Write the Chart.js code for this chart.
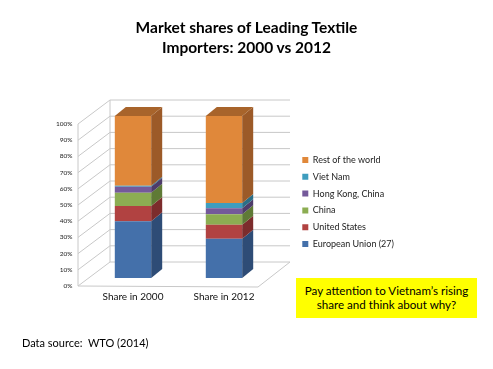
<!DOCTYPE html>
<html>
<head>
<meta charset="utf-8">
<script src="https://cdn.jsdelivr.net/npm/chart.js@4"></script>
<style>
  body { margin: 0; background: #fff; font-family: Lato, "Liberation Sans", sans-serif; }
  #wrap { position: relative; width: 493px; height: 369px; overflow: hidden; }
  #title { position: absolute; left: 0; top: 17px; width: 493px; text-align: center;
           font-weight: bold; font-size: 15.5px; line-height: 20px; color: #000; }
  #note { position: absolute; left: 296px; top: 278px; width: 181px; height: 40px;
          background: #ffff00; text-align: center; font-size: 11.6px; line-height: 14px;
          padding-top: 6px; box-sizing: border-box; color: #000; }
  #src { position: absolute; left: 22px; top: 336px; font-size: 11px; color: #000; }
  canvas { position: absolute; left: 0; top: 0; }
</style>
</head>
<body>
<div id="wrap">
  <canvas id="myChart" width="493" height="369"></canvas>
  <div id="title">Market shares of Leading Textile<br>Importers: 2000 vs 2012</div>
  <div id="note">Pay attention to Vietnam’s rising<br>share and think about why?</div>
  <div id="src">Data source:&nbsp; WTO (2014)</div>
</div>
<script>
// данные (проценты)
var years = ['Share in 2000', 'Share in 2012'];
var names = ['European Union (27)', 'United States', 'China', 'Hong Kong, China', 'Viet Nam', 'Rest of the world'];
var euVals = [35.0, 24.2];
var usVals = [9.5, 8.7];
var chinaVals = [8.1, 6.5];
var hkVals = [3.7, 3.7];
var vnVals = [0.6, 3.2];
var restVals = [43.1, 53.7];
var yTicks = [0, 10, 20, 30, 40, 50, 60, 70, 80, 90, 100];

var fronts = ['#4470aa', '#b14241', '#8cad52', '#74599a', '#3e9dbe', '#e0883a'];
var sides = ['#2e4c76', '#7c2c2c', '#5f7a36', '#4e3c6a', '#2b6e86', '#9c5a28'];
var topColor = '#a8642b';

var allVals = [euVals, usVals, chinaVals, hkVals, vnVals, restVals];
var datasets = [];
for (let i = 0; i < names.length; i++) {
    datasets.push({
        label: names[i],
        data: allVals[i],
        backgroundColor: fronts[i],
        borderWidth: 0,
        barPercentage: 0.4,
        categoryPercentage: 1
    });
}

// глубина 3D
var dx = 11, dy = 9;
var fontFam = 'Lato, "Liberation Sans", sans-serif';

var wallPlugin = {
    id: 'walls',
    afterLayout: function(chart) {
        // подвинуть область графика и легенду как на картинке
        var x = chart.scales.x;
        x.right = 269.5;
        x.width = x.right - x.left;
        x.configure();
        chart.chartArea.right = 269.5;
        chart.chartArea.width = 269.5 - chart.chartArea.left;
        var lg = chart.legend;
        var w = lg.width;
        lg.left = 294.5;
        lg.right = 294.5 + w;
        lg.top -= 10;
        lg.bottom -= 10;
    },
    beforeDatasetsDraw: function(chart) {
        var ctx = chart.ctx;
        var y = chart.scales.y;
        var fx = 78, bx = 110, bxr = 290;
        ctx.save();
        ctx.strokeStyle = '#c8c8c8';
        ctx.lineWidth = 1;
        for (let i = 0; i < yTicks.length; i++) {
            var py = y.getPixelForValue(yTicks[i]);
            ctx.beginPath();
            ctx.moveTo(fx, py + 8);
            ctx.lineTo(bx, py - 16);
            ctx.lineTo(bxr, py - 16);
            ctx.stroke();
        }
        var p0 = y.getPixelForValue(0), p100 = y.getPixelForValue(100);
        ctx.beginPath();
        ctx.moveTo(fx, p100 + 8);
        ctx.lineTo(fx, p0 + 8);
        ctx.lineTo(bxr - 32, p0 + 9);
        ctx.lineTo(bxr, p0 - 16);
        ctx.moveTo(bx, p100 - 16);
        ctx.lineTo(bx, p0 - 16);
        ctx.stroke();
        ctx.restore();
    },
    afterDatasetsDraw: function(chart) {
        var ctx = chart.ctx;
        ctx.save();
        for (let d = 0; d < chart.data.datasets.length; d++) {
            var meta = chart.getDatasetMeta(d);
            for (let k = 0; k < meta.data.length; k++) {
                var bar = meta.data[k];
                var r = bar.x + bar.width / 2, l = bar.x - bar.width / 2;
                ctx.fillStyle = sides[d];
                ctx.beginPath();
                ctx.moveTo(r, bar.y);
                ctx.lineTo(r + dx, bar.y - dy);
                ctx.lineTo(r + dx, bar.base - dy);
                ctx.lineTo(r, bar.base);
                ctx.closePath();
                ctx.fill();
                if (d == chart.data.datasets.length - 1) {
                    ctx.fillStyle = topColor;
                    ctx.beginPath();
                    ctx.moveTo(l, bar.y);
                    ctx.lineTo(l + dx, bar.y - dy);
                    ctx.lineTo(r + dx, bar.y - dy);
                    ctx.lineTo(r, bar.y);
                    ctx.closePath();
                    ctx.fill();
                }
            }
        }
        ctx.restore();
    }
};

var ctx = document.getElementById('myChart').getContext('2d');
var myChart = new Chart(ctx, {
    type: 'bar',
    data: { labels: years, datasets: datasets },
    plugins: [wallPlugin],
    options: {
        responsive: false,
        animation: false,
        layout: { padding: { top: 116, left: 0, bottom: 61, right: 20 } },
        plugins: {
            title: { display: false },
            tooltip: { enabled: false },
            legend: {
                position: 'right',
                reverse: true,
                labels: {
                    boxWidth: 6, boxHeight: 6, padding: 7.8,
                    color: '#222',
                    font: { family: fontFam, size: 9 }
                }
            }
        },
        scales: {
            x: {
                stacked: true,
                grid: { display: false, drawTicks: false },
                border: { display: false },
                ticks: { padding: 13, color: '#111', font: { family: fontFam, size: 10 } },
                afterFit: function(s) { s.height = 30; }
            },
            y: {
                stacked: true,
                min: 0, max: 100,
                afterBuildTicks: function(s) { s.ticks = yTicks.map(function(v) { return { value: v }; }); },
                grid: { display: false, drawTicks: false },
                border: { display: false },
                ticks: {
                    padding: 15, labelOffset: 8, color: '#222',
                    font: { family: fontFam, size: 6.5 },
                    callback: function(v) { return v + '%'; }
                },
                afterFit: function(s) { s.width = 87.5; }
            }
        }
    }
});
</script>
</body>
</html>
